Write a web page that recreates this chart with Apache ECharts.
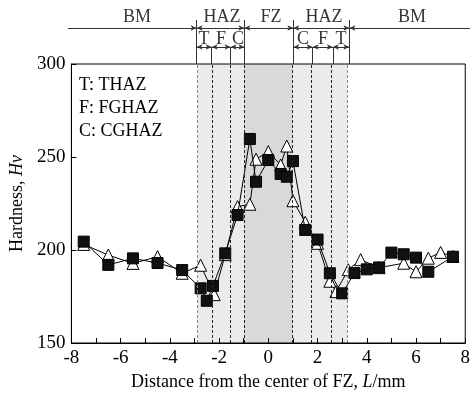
<!DOCTYPE html>
<html>
<head>
<meta charset="utf-8">
<script src="https://cdn.jsdelivr.net/npm/echarts@6/dist/echarts.min.js"></script>
<style>html,body{margin:0;padding:0;background:#fff;}#c{width:473px;height:397px;}</style>
</head>
<body>
<div id="c"></div>
<script>
// ---- data ----
const squareX = [-7.5,-6.5,-5.5,-4.5,-3.5,-2.75,-2.5,-2.25,-1.75,-1.25,-0.75,-0.5,0,0.5,0.75,1.0,1.5,2.0,2.5,3.0,3.5,4.0,4.5,5.0,5.5,6.0,6.5,7.5];
const squareY = [204.5,192,195.5,193,189.2,179.4,172.7,180.7,198.2,218.8,259.7,236.7,248.4,240.9,239.4,247.8,210.8,205.6,187.5,176.7,187.6,189.6,190.6,198.6,197.7,195.9,188.3,196.4];
const triX = [-7.5,-6.5,-5.5,-4.5,-3.5,-2.75,-2.2,-1.75,-1.25,-0.75,-0.5,0,0.5,0.75,1.0,1.5,2.0,2.5,2.75,3.25,3.75,4.5,5.5,6.0,6.5,7.0,7.5];
const triY = [203,197.3,192.8,196.4,187.5,191.8,176,197.5,223.3,224.6,248.8,252.9,245.7,255.9,226.5,214.9,203.6,183.2,177.6,189.4,194.8,190.5,192.9,188.3,195.6,198.7,196.5];
// zone boundaries (mm): THAZ start, F start, C start, FZ start | FZ end, F start, T start, THAZ end
const zoneBounds = [-2.88,-2.28,-1.53,-0.98,0.97,1.74,2.54,3.2];
const topLabels = ['BM','HAZ','FZ','HAZ','BM'];
const topLabelX = [-5.25,-1.87,0.08,2.19,5.69];
const subLabels = ['T','F','C','C','F','T'];
const subLabelX = [-2.59,-1.91,-1.23,1.35,2.15,2.87];
const xTickLabels = [-8,-6,-4,-2,0,2,4,6,8];
const yTickLabels = [150,200,250,300];
const legendLines = ['T: THAZ','F: FGHAZ','C: CGHAZ'];

const FONT = 'Liberation Serif';
const chart = echarts.init(document.getElementById('c'), null, {renderer:'canvas'});

// annotation vertical units (grid 1, 0 at top)
const ROW1 = 18, ROW2 = 37, TXT1 = 7, TXT2 = 29, OUT_TOP = 10, IN_TOP = 37, BOT = 54;
const outer = [zoneBounds[0], zoneBounds[3], zoneBounds[4], zoneBounds[7]];
const inner = [zoneBounds[1], zoneBounds[2], zoneBounds[5], zoneBounds[6]];
const A = 'arrow', N = 'none';
const seg = (x1, x2, y, s1, s2) => [{coord:[x1,y], symbol:s1}, {coord:[x2,y], symbol:s2}];
const annoLines = [
  seg(-8, zoneBounds[0], ROW1, N, A),
  seg(zoneBounds[0], zoneBounds[3], ROW1, A, A),
  seg(zoneBounds[3], zoneBounds[4], ROW1, A, A),
  seg(zoneBounds[4], zoneBounds[7], ROW1, A, A),
  seg(zoneBounds[7], 8, ROW1, A, N),
  seg(zoneBounds[0], zoneBounds[1], ROW2, A, A),
  seg(zoneBounds[1], zoneBounds[2], ROW2, A, A),
  seg(zoneBounds[2], zoneBounds[3], ROW2, A, A),
  seg(zoneBounds[4], zoneBounds[5], ROW2, A, A),
  seg(zoneBounds[5], zoneBounds[6], ROW2, A, A),
  seg(zoneBounds[6], zoneBounds[7], ROW2, A, A)
];
outer.forEach(x => annoLines.push([{coord:[x,OUT_TOP],symbol:N},{coord:[x,BOT],symbol:N}]));
inner.forEach(x => annoLines.push([{coord:[x,IN_TOP],symbol:N},{coord:[x,BOT],symbol:N}]));

const textData = topLabels.map((t,i)=>[topLabelX[i], TXT1, t]).concat(subLabels.map((t,i)=>[subLabelX[i], TXT2, t]));

const dashLines = zoneBounds.map((x,i) => ({
  xAxis: x,
  lineStyle: {color: (i===0||i===7) ? '#888' : '#222', type:[3,2], width:1}
}));

const option = {
  animation: false,
  backgroundColor: '#fff',
  textStyle: {fontFamily: FONT},
  grid: [
    {left:68, right:3, top:64, bottom:54, show:true, borderColor:'#000', borderWidth:1, backgroundColor:'transparent', z:10},
    {left:68, right:3, top:10, height:54, show:false}
  ],
  xAxis: [
    {type:'value', gridIndex:0, min:-8, max:8, interval:1, z:10,
     axisLine:{onZero:false, lineStyle:{color:'#000', width:1}},
     axisTick:{inside:true, length:5, lineStyle:{color:'#000'}},
     splitLine:{show:false},
     axisLabel:{color:'#000', fontSize:19, fontFamily:FONT, margin:6,
       formatter: v => xTickLabels.indexOf(v) >= 0 ? String(v) : ''},
     name:'Distance from the center of FZ, {i|L}/mm', nameLocation:'middle', nameGap:30,
     nameTextStyle:{color:'#000', fontSize:18, fontFamily:FONT,
       rich:{i:{fontStyle:'italic', fontSize:18, fontFamily:FONT, color:'#000'}}}
    },
    {type:'value', gridIndex:1, min:-8, max:8, show:false}
  ],
  yAxis: [
    {type:'value', gridIndex:0, min:150, max:300, interval:50, z:10,
     axisLine:{show:true, onZero:false, lineStyle:{color:'#000', width:1}},
     axisTick:{show:true, inside:true, length:5, lineStyle:{color:'#000'}},
     splitLine:{show:false},
     axisLabel:{color:'#000', fontSize:19, fontFamily:FONT, margin:6,
       formatter: v => yTickLabels.indexOf(v) >= 0 ? String(v) : ''},
     name:'Hardness, {i|Hv}', nameLocation:'middle', nameGap:38,
     nameTextStyle:{color:'#000', fontSize:18, fontFamily:FONT,
       rich:{i:{fontStyle:'italic', fontSize:18, fontFamily:FONT, color:'#000'}}}
    },
    {type:'value', gridIndex:1, min:0, max:54, inverse:true, show:false}
  ],
  graphic: [
    {type:'text', left:79, top:74, z:20,
     style:{text: legendLines.join('\n'), font:'18px "Liberation Serif"', lineHeight:23, fill:'#000'}}
  ],
  series: [
    {
      type:'line', xAxisIndex:0, yAxisIndex:0, data:[], z:1, silent:true,
      markArea:{silent:true, data:[
        [{xAxis:zoneBounds[0], itemStyle:{color:'#ebebeb'}},{xAxis:zoneBounds[7]}],
        [{xAxis:zoneBounds[3], itemStyle:{color:'#d9d9d9'}},{xAxis:zoneBounds[4]}]
      ]},
      markLine:{silent:true, symbol:['none','none'], label:{show:false}, data:dashLines}
    },
    {
      type:'line', name:'tri', xAxisIndex:0, yAxisIndex:0, z:3,
      data: triX.map((x,i)=>[x, triY[i]]),
      symbol:'triangle', symbolSize:12, showAllSymbol:true,
      itemStyle:{color:'#fff', borderColor:'#000', borderWidth:1},
      lineStyle:{color:'#000', width:1}
    },
    {
      type:'line', name:'sq', xAxisIndex:0, yAxisIndex:0, z:4,
      data: squareX.map((x,i)=>[x, squareY[i]]),
      symbol:'rect', symbolSize:11, showAllSymbol:true,
      itemStyle:{color:'#111', borderColor:'#000', borderWidth:1},
      lineStyle:{color:'#000', width:1}
    },
    {
      type:'scatter', xAxisIndex:1, yAxisIndex:1, z:5,
      data: textData, symbolSize:0,
      itemStyle:{color:'transparent'},
      label:{show:true, position:'inside', formatter: p => p.data[2],
        color:'#000', fontSize:18, fontFamily:FONT},
      markLine:{silent:true, symbolSize:[4,6], label:{show:false},
        lineStyle:{color:'#333', width:1, type:'solid'},
        data: annoLines}
    }
  ]
};
chart.setOption(option);
</script>
</body>
</html>
